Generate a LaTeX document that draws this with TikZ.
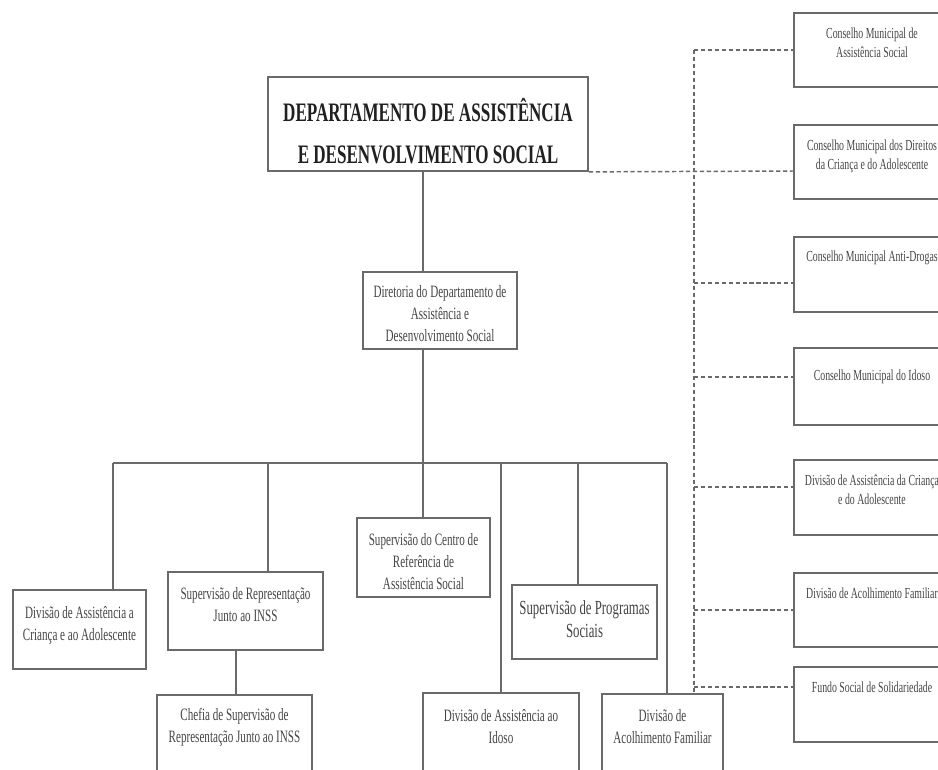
\documentclass[tikz,border=0pt]{standalone}
\usepackage{fontspec}
\setmainfont{Liberation Serif}
\newfontfamily\narrowserif[FakeStretch=0.64]{Liberation Serif}
\usetikzlibrary{fit}
\definecolor{rule}{HTML}{6A6A6A}
\definecolor{ink}{HTML}{454545}
\definecolor{titleink}{HTML}{202020}
\tikzset{
  box/.style={draw=rule, line width=1.3pt, inner sep=0pt},
  txt/.style={text=ink, align=center, inner sep=0pt,
    font=\narrowserif\fontsize{13}{16.5}\selectfont},
  smalltxt/.style={txt, font=\narrowserif\fontsize{11.5}{14}\selectfont},
  bigtxt/.style={txt, font=\narrowserif\fontsize{15}{17.5}\selectfont},
  titletxt/.style={txt, text=titleink,
    font=\narrowserif\bfseries\fontsize{20}{32}\selectfont},
  link/.style={draw=rule, line width=1.1pt},
  dotlink/.style={draw=rule, line width=1.1pt, dash pattern=on 3.2pt off 2pt}
}
\begin{document}
\begin{tikzpicture}[x=0.75pt,y=-0.75pt]
\useasboundingbox (0,0) rectangle (938,769);
\clip (0,0) rectangle (938,769);
\fill[white] (0,0) rectangle (938,769);

% department head
\node[box, fit={(268,77) (588,171)}] (dept) {};
\node[titletxt] (deptT) at (428,131) {DEPARTAMENTO DE ASSISTÊNCIA\\E DESENVOLVIMENTO SOCIAL};

% directorate
\node[box, fit={(363,272) (517,349)}] (dir) {};
\node[txt] (dirT) at (440,314) {Diretoria do Departamento de\\Assistência e\\Desenvolvimento Social};

% units under the directorate
\node[box, fit={(13,590) (146,669)}] (divcri) {};
\node[txt] (divcriT) at (79.5,625) {Divisão de Assistência a\\Criança e ao Adolescente};

\node[box, fit={(168,572) (323,650)}] (suprep) {};
\node[txt] (suprepT) at (245.5,605) {Supervisão de Representação\\Junto ao INSS};

\node[box, fit={(157,695) (312,790)}] (chefia) {};
\node[txt] (chefiaT) at (234.5,727) {Chefia de Supervisão de\\Representação Junto ao INSS};

\node[box, fit={(357,518) (490,597)}] (centro) {};
\node[txt] (centroT) at (423.5,562) {Supervisão do Centro de\\Referência de\\Assistência Social};

\node[box, fit={(423,693) (579,790)}] (idoso) {};
\node[txt] (idosoT) at (501,727) {Divisão de Assistência ao\\Idoso};

\node[box, fit={(512,585) (657,659)}] (prog) {};
\node[bigtxt] (progT) at (584.5,619) {Supervisão de Programas\\Sociais};

\node[box, fit={(602,694) (723,790)}] (acolh) {};
\node[txt] (acolhT) at (662.5,727) {Divisão de\\Acolhimento Familiar};

% councils and linked bodies
\node[box, fit={(794,13) (950,87)}] (cm1) {};
\node[smalltxt] at (872,43) {Conselho Municipal de\\Assistência Social};
\node[box, fit={(794,125) (950,199)}] (cm2) {};
\node[smalltxt] at (872,156) {Conselho Municipal dos Direitos\\da Criança e do Adolescente};
\node[box, fit={(794,237) (950,312)}] (cm3) {};
\node[smalltxt] at (872,258) {Conselho Municipal Anti-Drogas};
\node[box, fit={(794,348) (950,425)}] (cm4) {};
\node[smalltxt] at (872,377) {Conselho Municipal do Idoso};
\node[box, fit={(794,460) (950,535)}] (cm5) {};
\node[smalltxt] at (872,490) {Divisão de Assistência da Criança\\e do Adolescente};
\node[box, fit={(794,573) (950,647)}] (cm6) {};
\node[smalltxt] at (872,593) {Divisão de Acolhimento Familiar};
\node[box, fit={(794,667) (950,742)}] (cm7) {};
\node[smalltxt] at (872,687) {Fundo Social de Solidariedade};

% solid hierarchy
\coordinate (spine) at (423,463);
\coordinate (busL) at (113,463);
\coordinate (busR) at (667,463);
\coordinate (repx) at (236,0);
\coordinate (repdrop) at (268,0);
\coordinate (idosodrop) at (501,0);
\coordinate (progdrop) at (578,0);
\draw[link] (dept.south -| spine) -- (dir.north -| spine);
\draw[link] (dir.south -| spine) -- (centro.north -| spine);
\draw[link] (busL) -- (busR);
\draw[link] (busL) -- (divcri.north -| busL);
\draw[link] (spine -| repdrop) -- (suprep.north -| repdrop);
\draw[link] (spine -| idosodrop) -- (idoso.north -| idosodrop);
\draw[link] (spine -| progdrop) -- (prog.north -| progdrop);
\draw[link] (busR) -- (acolh.north -| busR);
\draw[link] (suprep.south -| repx) -- (chefia.north -| repx);

% dotted links to councils
\coordinate (d1) at (694,50);
\coordinate (d2) at (694,171);
\coordinate (d3) at (694,283);
\coordinate (d4) at (694,377);
\coordinate (d5) at (694,487);
\coordinate (d6) at (694,610);
\coordinate (d7) at (694,687);
\coordinate (dEnd) at (694,693);
\draw[dotlink] (d1) -- (dEnd);
\draw[dotlink] (dept.south east) -- (d2 -| cm2.west);
\foreach \k in {1,3,4,5,6,7}{
  \draw[dotlink] (d\k) -- (d\k -| cm\k.west);
}
\end{tikzpicture}
\end{document}
